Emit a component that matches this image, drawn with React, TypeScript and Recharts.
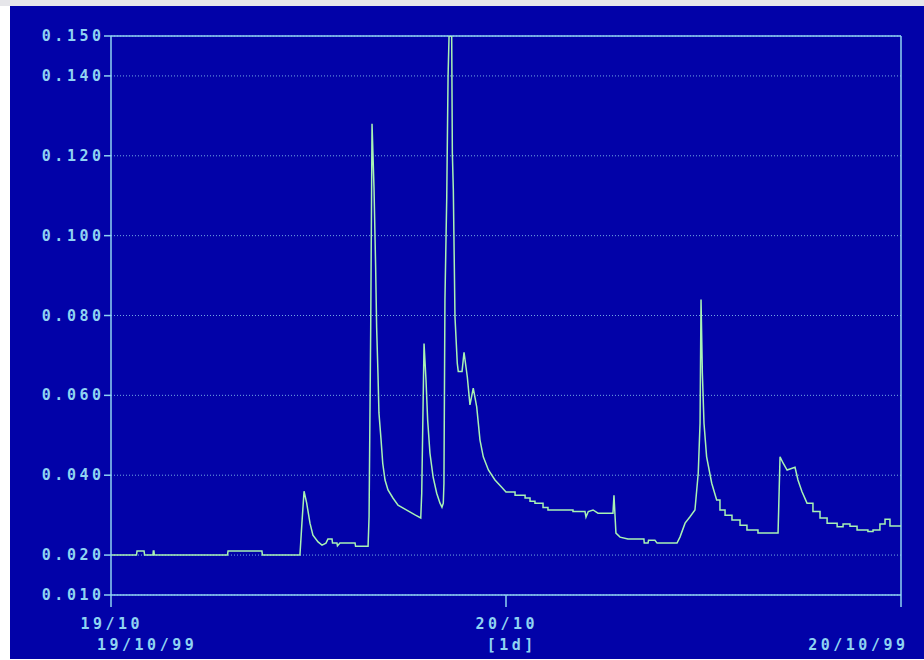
import React from 'react';
import { LineChart, Line, XAxis, YAxis, CartesianGrid, ReferenceLine } from 'recharts';

// hours since 19/10 00:00, one row per stretch of the record
const hours = [
  0, 1.55, 1.58, 2.01, 2.04, 2.55, 2.57, 2.61, 2.63, 7.08, 7.11, 9.17, 9.2,
  11.48, 11.6, 11.73, 11.89, 12.09, 12.27, 12.58, 12.82, 13.06, 13.18, 13.43, 13.46, 13.73, 13.76, 13.91, 14.83, 14.86, 15.62,
  15.68, 15.78, 15.86, 15.98, 16.08, 16.14, 16.22, 16.28, 16.41, 16.51, 16.65, 16.83, 17.13, 17.44, 17.86, 18.5, 18.82,
  18.88, 19.02, 19.14, 19.24, 19.38, 19.57, 19.79, 19.99, 20.11, 20.19,
  20.23, 20.29, 20.4, 20.48, 20.54, 20.7, 20.74, 20.8, 20.9, 21.04, 21.1, 21.33, 21.45, 21.65, 21.81, 22.01, 22.22, 22.42, 22.62, 22.93, 23.33, 23.74,
  24.0, 24.55, 24.55, 25.16, 25.16, 25.46, 25.46, 25.76, 25.76, 26.25, 26.25, 26.55, 26.55, 28.07, 28.07, 28.8, 28.86, 29.0, 29.29, 29.59, 30.5,
  30.56, 30.68, 30.93, 31.41, 32.38, 32.4, 32.63, 32.66, 33.05, 33.18, 34.39,
  34.57, 34.88, 35.18, 35.48, 35.68, 35.79, 35.85, 35.93, 36.03, 36.19, 36.5, 36.8,
  37.0, 37.0, 37.31, 37.31, 37.73, 37.73, 38.22, 38.22, 38.64, 38.64, 39.31, 39.31, 40.53,
  40.65, 40.84, 41.08, 41.56, 41.74, 41.98, 42.29,
  42.65, 42.65, 43.08, 43.08, 43.51, 43.51, 44.12, 44.12, 44.48, 44.48, 44.9, 44.9, 45.33, 45.33, 45.99, 45.99, 46.3, 46.3, 46.72, 46.72, 47.03, 47.03, 47.33, 47.33, 48,
];

const flow = [
  0.02, 0.02, 0.021, 0.021, 0.02, 0.02, 0.021, 0.021, 0.02, 0.02, 0.021, 0.021, 0.02,
  0.02, 0.028, 0.036, 0.033, 0.028, 0.025, 0.0233, 0.0225, 0.023, 0.024, 0.024, 0.023, 0.023, 0.0223, 0.023, 0.023, 0.0222, 0.0222,
  0.0296, 0.077, 0.128, 0.112, 0.092, 0.077, 0.0656, 0.0556, 0.0488, 0.043, 0.0388, 0.0363, 0.0343, 0.0325, 0.0315, 0.03, 0.0293,
  0.0355, 0.073, 0.0638, 0.0538, 0.0455, 0.0396, 0.0355, 0.033, 0.032, 0.033,
  0.038, 0.0839, 0.1097, 0.14, 0.15, 0.15, 0.1207, 0.1114, 0.0797, 0.068, 0.066, 0.066, 0.0708, 0.0646, 0.0576, 0.0618, 0.0571, 0.0488, 0.0446, 0.0413, 0.0388, 0.037,
  0.0358, 0.0358, 0.035, 0.035, 0.0343, 0.0343, 0.0335, 0.0335, 0.033, 0.033, 0.0319, 0.0319, 0.0313, 0.0313, 0.0309, 0.0309, 0.0295, 0.0309, 0.0313, 0.0305, 0.0305,
  0.035, 0.0255, 0.0245, 0.024, 0.024, 0.023, 0.023, 0.0237, 0.0237, 0.023, 0.023,
  0.0245, 0.028, 0.0296, 0.0313, 0.0405, 0.053, 0.084, 0.0656, 0.053, 0.0446, 0.038, 0.0338,
  0.0338, 0.0313, 0.0313, 0.03, 0.03, 0.0288, 0.0288, 0.0275, 0.0275, 0.0263, 0.0263, 0.0255, 0.0255,
  0.0446, 0.043, 0.0413, 0.042, 0.0388, 0.0359, 0.033,
  0.033, 0.0309, 0.0309, 0.0293, 0.0293, 0.028, 0.028, 0.0271, 0.0271, 0.0278, 0.0278, 0.0272, 0.0272, 0.0263, 0.0263, 0.0259, 0.0259, 0.0263, 0.0263, 0.0278, 0.0278, 0.029, 0.029, 0.0273, 0.0273,
];

const yTicks = [0.01, 0.02, 0.04, 0.06, 0.08, 0.1, 0.12, 0.14, 0.15];
const xTicks = [0, 24, 48];
const xTickLabels = ['19/10', '20/10', ''];
const xDateLabels = ['19/10/99', '[1d]', '20/10/99'];

const BG = '#0202a8';
const FG = '#8fd3f2';
const LINE = '#a8f2b4';
const FONT = '"DejaVu Sans Mono", monospace';
const LS = 3.5;

const data = hours.map((h, i) => ({ h, v: flow[i] }));

const textStyle = {
  fill: FG,
  fontFamily: FONT,
  fontSize: 15,
  fontWeight: 700,
  letterSpacing: LS,
};

function YTick(props: any) {
  const { x, y, payload } = props;
  return (
    <text x={x - 1 + LS} y={y} dy={5} textAnchor="end" style={textStyle}>
      {payload.value.toFixed(3)}
    </text>
  );
}

function XTick(props: any) {
  const { x, y, index } = props;
  // second row is aligned differently per tick
  const anchors = ['start', 'middle', 'end'];
  const shifts = [-14, 4 + LS / 2, 4 + LS];
  return (
    <g>
      <text x={x + LS / 2 - 1} y={y + 20} textAnchor="middle" style={textStyle}>
        {xTickLabels[index]}
      </text>
      <text x={x + shifts[index]} y={y + 41} textAnchor={anchors[index]} style={textStyle}>
        {xDateLabels[index]}
      </text>
    </g>
  );
}

export default function App() {
  return (
    <div style={{ position: 'fixed', left: 0, top: 0, width: 924, height: 660, background: '#ffffff' }}>
      <div style={{ position: 'absolute', left: 0, top: 0, width: 924, height: 6, background: '#e6e6ea' }} />
      <div style={{ position: 'absolute', left: 10, top: 6, width: 914, height: 653, background: BG }} />
      <div style={{ position: 'absolute', left: 0, top: 0 }}>
        <LineChart width={924} height={660} data={data} margin={{ top: 36, right: 23, bottom: 5, left: 0 }}>
          <CartesianGrid horizontal vertical={false} stroke={FG} strokeDasharray="1 2" strokeOpacity={0.8} />
          <XAxis
            dataKey="h"
            type="number"
            domain={[0, 48]}
            ticks={xTicks}
            interval={0}
            height={60}
            tickSize={12}
            axisLine={{ stroke: FG, strokeWidth: 1.5 }}
            tickLine={{ stroke: FG, strokeWidth: 1.5 }}
            tick={<XTick />}
          />
          <YAxis
            type="number"
            domain={[0.01, 0.15]}
            ticks={yTicks}
            interval={0}
            allowDataOverflow
            width={111}
            tickSize={7}
            axisLine={{ stroke: FG, strokeWidth: 1.5 }}
            tickLine={{ stroke: FG, strokeWidth: 1.5 }}
            tick={<YTick />}
          />
          <ReferenceLine y={0.15} stroke={FG} strokeWidth={1.5} />
          <ReferenceLine x={48} stroke={FG} strokeWidth={1.5} />
          <Line
            type="linear"
            dataKey="v"
            stroke={LINE}
            strokeWidth={1.5}
            dot={false}
            isAnimationActive={false}
          />
        </LineChart>
      </div>
    </div>
  );
}
